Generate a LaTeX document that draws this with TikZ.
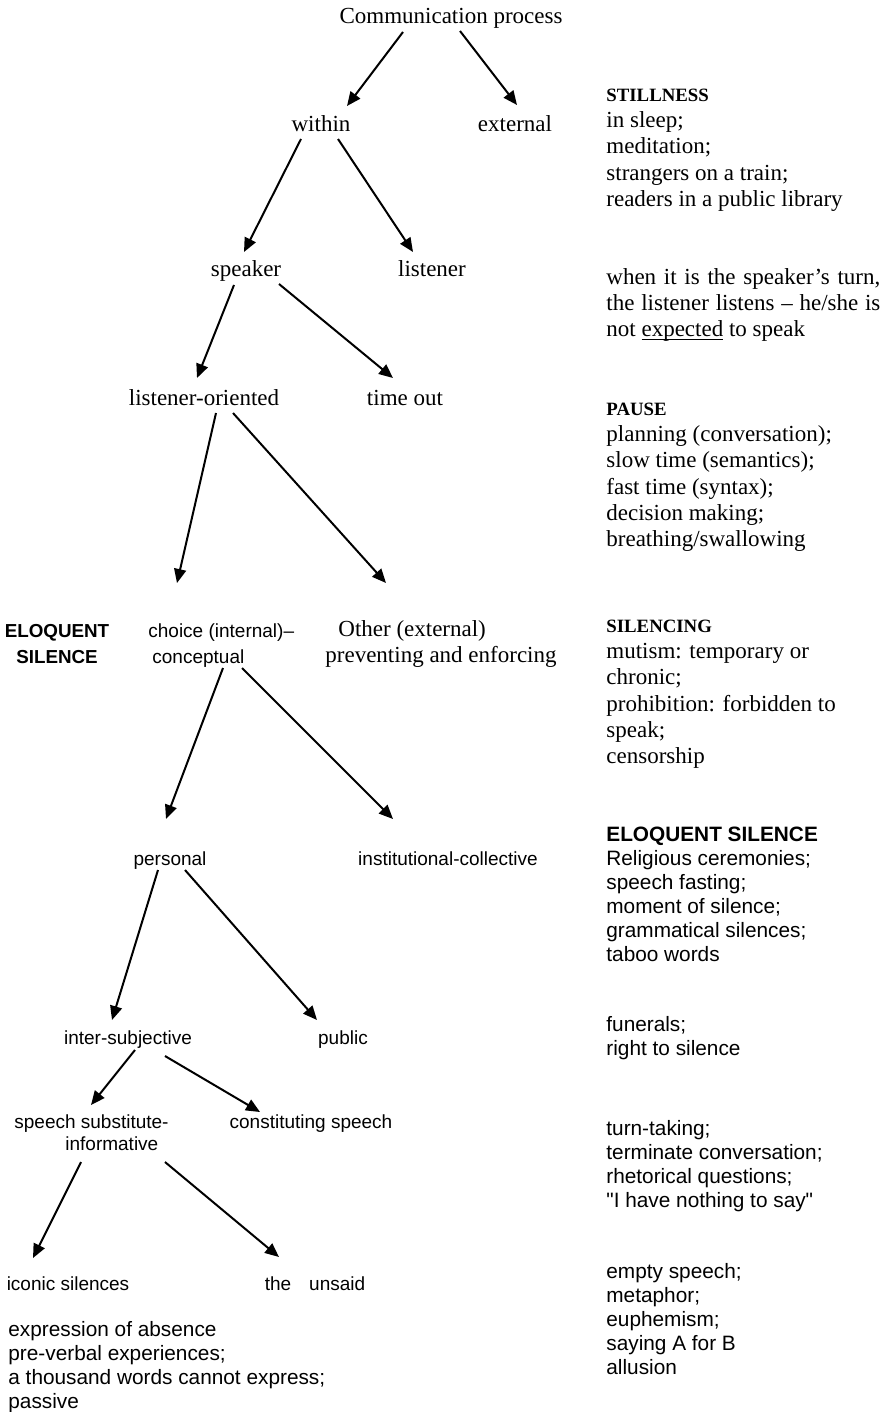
\documentclass[tikz,border=0pt]{standalone}
\usepackage{fontspec}
\setmainfont{Liberation Serif}
\newfontfamily\arialfont{Liberation Sans}
\usetikzlibrary{arrows.meta}
\newcommand\undl[1]{\setbox0\hbox{#1}\rlap{\rule[-1.6pt]{\wd0}{0.5pt}}#1}

\begin{document}
\begin{tikzpicture}[x=0.5pt, y=-0.5pt,
  tm/.style={font=\fontsize{11.5pt}{13.1pt}\selectfont, inner sep=0pt, anchor=base},
  ar/.style={font=\arialfont\fontsize{9.5pt}{11pt}\selectfont, inner sep=0pt, anchor=base},
  tnote/.style={font=\fontsize{11.5pt}{13.1pt}\selectfont, inner sep=0pt, anchor=north west, align=left},
  anote/.style={font=\arialfont\fontsize{10.4pt}{12pt}\selectfont, inner sep=0pt, anchor=north west, align=left},
  arr/.style={-{Triangle[length=7pt,width=6pt]}, line width=1pt}]
\useasboundingbox (0,0) rectangle (884,1412);

\node[tm] (comm) at (451,24) {Communication process};
\node[tm] (within) at (321,132) {within};
\node[tm] (external) at (515,132) {external};
\node[tm] (speaker) at (246,277) {speaker};
\node[tm] (listener) at (432,277) {listener};
\node[tm] (lorient) at (204,405) {listener-oriented};
\node[tm] (timeout) at (405,405) {time out};
\node[font=\arialfont\bfseries\fontsize{9.4pt}{13pt}\selectfont, inner sep=0pt, anchor=north, align=center] (eloqL) at (57,618.8) {\strut ELOQUENT\\SILENCE};
\node[ar, font=\arialfont\fontsize{9.5pt}{13pt}\selectfont, anchor=north west, align=left] (choice) at (148,618.8) {\strut choice (internal)–\\\hspace*{2pt}conceptual};
\node[tm, anchor=north west, align=left] (other) at (325,617.7) {\strut\hspace*{6.5pt}Other (external)\\preventing and enforcing};
\node[ar] (personal) at (170,865) {personal};
\node[ar] (instit) at (448,865) {institutional-collective};
\node[ar] (intersub) at (128,1044) {inter-subjective};
\node[ar] (public) at (343,1044) {public};
\node[ar, anchor=north west, align=left] (subst) at (14,1112.6) {\strut speech substitute-\\\hspace*{25.5pt}informative};
\node[ar] (constit) at (311,1128) {constituting speech};
\node[ar] (iconic) at (68,1290) {iconic silences};
\node[ar] (unsaid) at (315,1290) {the\hspace{9pt}unsaid};

\node[tnote] (stillness) at (606,82.7) {\strut{\fontsize{9.4pt}{13.1pt}\selectfont\bfseries STILLNESS}\\in sleep;\\meditation;\\strangers on a train;\\readers in a public library};
\node[tnote] (turn) at (606,265.7) {\strut\makebox[137pt][s]{when it is the speaker's turn,}\\\makebox[137pt][s]{the listener listens – he/she is}\\not \undl{expected} to speak};
\node[tnote] (pause) at (606,396.7) {\strut{\fontsize{9.4pt}{13.1pt}\selectfont\bfseries PAUSE}\\planning (conversation);\\slow time (semantics);\\fast time (syntax);\\decision making;\\breathing/swallowing};
\node[tnote] (silencing) at (606,613.7) {\strut{\fontsize{9.4pt}{13.1pt}\selectfont\bfseries SILENCING}\\mutism: temporary or\\chronic;\\prohibition: forbidden to\\speak;\\censorship};
\node[anote] (eloqR) at (606,824.2) {\strut\textbf{ELOQUENT SILENCE}\\Religious ceremonies;\\speech fasting;\\moment of silence;\\grammatical silences;\\taboo words};
\node[anote] (funerals) at (606,1014.2) {\strut funerals;\\right to silence};
\node[anote] (turntaking) at (606,1118.2) {\strut turn-taking;\\terminate conversation;\\rhetorical questions;\\"I have nothing to say"};
\node[anote] (emptysp) at (606,1261.2) {\strut empty speech;\\metaphor;\\euphemism;\\saying A for B\\allusion};
\node[anote] (absence) at (8,1319.2) {\strut expression of absence\\pre-verbal experiences;\\a thousand words cannot express;\\passive};

\draw[arr] ([shift={(-48,8)}]comm.base) -- ([shift={(26,-26)}]within.base);
\draw[arr] ([shift={(9,7)}]comm.base) -- ([shift={(2,-27)}]external.base);
\draw[arr] ([shift={(-20,7)}]within.base) -- ([shift={(-2,-25)}]speaker.base);
\draw[arr] ([shift={(17,7)}]within.base) -- ([shift={(-19,-25)}]listener.base);
\draw[arr] ([shift={(-12,8)}]speaker.base) -- ([shift={(-7,-27)}]lorient.base);
\draw[arr] ([shift={(33,7)}]speaker.base) -- ([shift={(-12,-27)}]timeout.base);
\draw[arr] ([shift={(12,8)}]lorient.base) -- ([shift={(29,-35.8)}]choice.north west);
\draw[arr] ([shift={(29,8)}]lorient.base) -- ([shift={(61,-34.7)}]other.north west);
\draw[arr] ([shift={(75,49.2)}]choice.north west) -- ([shift={(-4,-46)}]personal.base);
\draw[arr] ([shift={(94,49.2)}]choice.north west) -- ([shift={(-55,-46)}]instit.base);
\draw[arr] ([shift={(-12,5)}]personal.base) -- ([shift={(-16,-24)}]intersub.base);
\draw[arr] ([shift={(15,5)}]personal.base) -- ([shift={(-26,-24)}]public.base);
\draw[arr] ([shift={(7,6)}]intersub.base) -- ([shift={(77,-7.6)}]subst.north west);
\draw[arr] ([shift={(37,12)}]intersub.base) -- ([shift={(-51,-16)}]constit.base);
\draw[arr] ([shift={(67,49.4)}]subst.north west) -- ([shift={(-35,-32)}]iconic.base);
\draw[arr] ([shift={(151,49.4)}]subst.north west) -- ([shift={(-36,-33)}]unsaid.base);
\end{tikzpicture}
\end{document}
